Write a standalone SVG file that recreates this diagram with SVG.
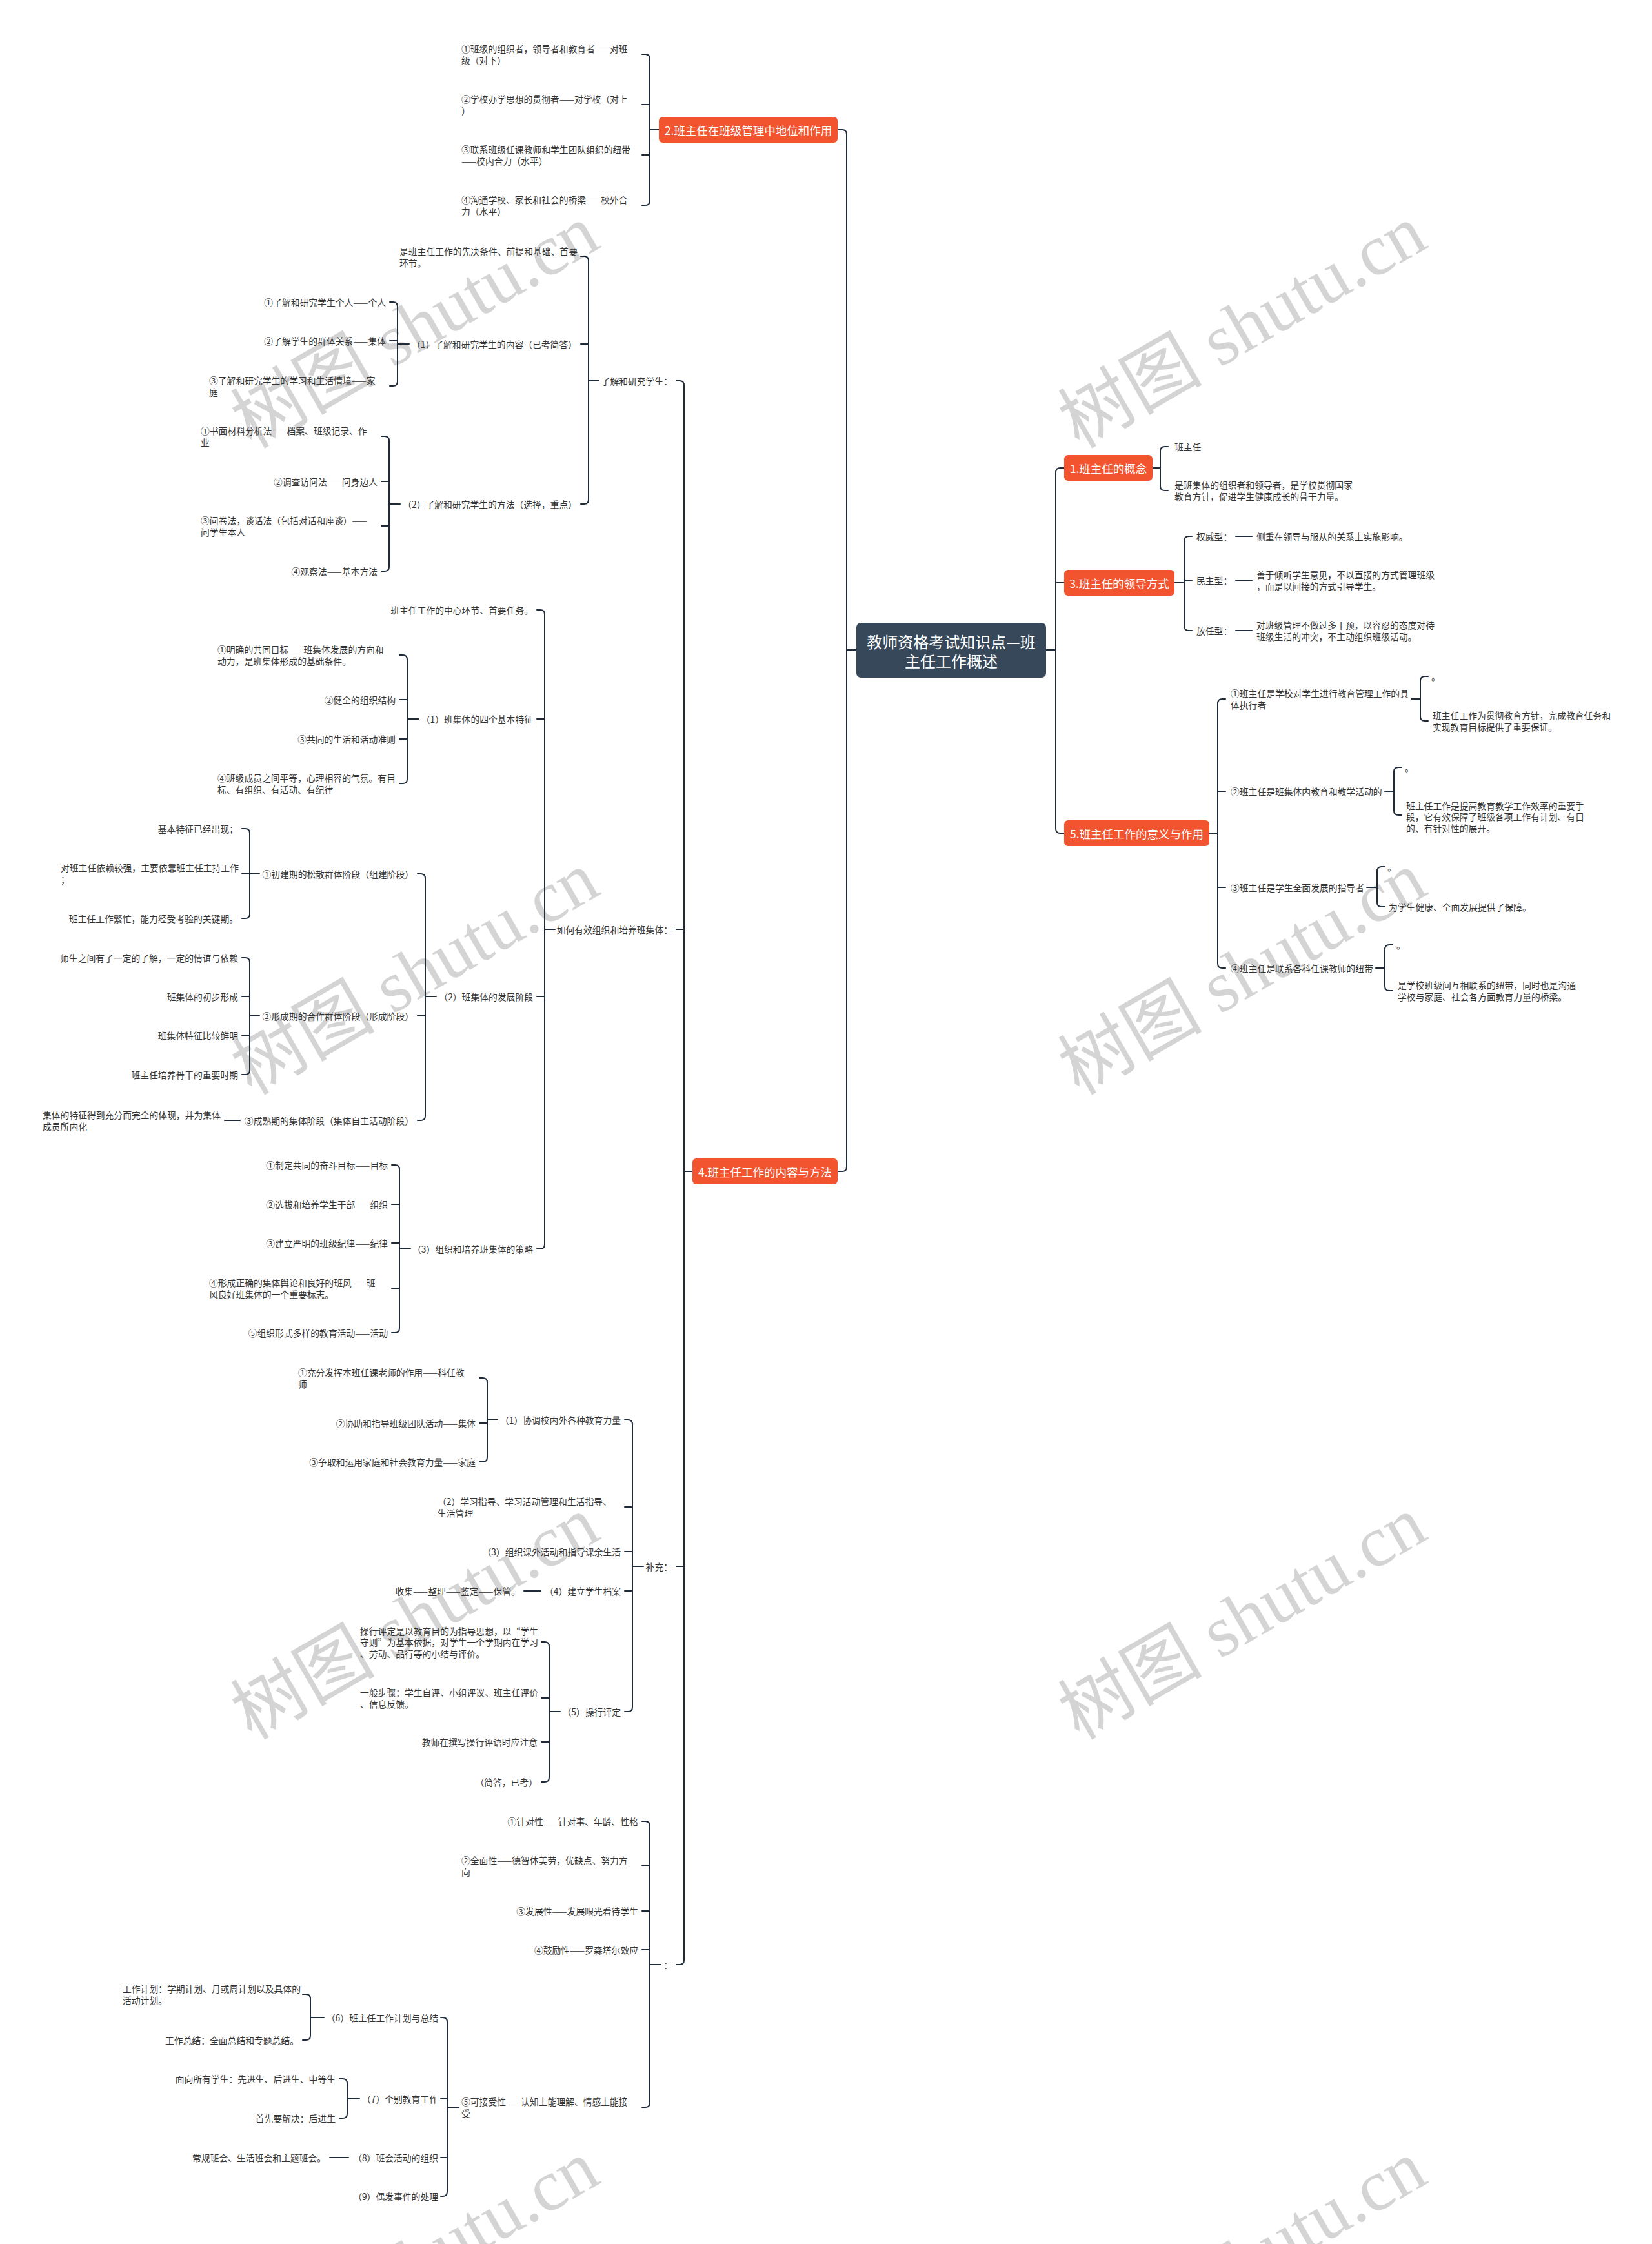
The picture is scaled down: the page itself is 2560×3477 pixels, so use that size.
<svg xmlns="http://www.w3.org/2000/svg" width="2560" height="3477" viewBox="0 0 2560 3477">
<style>
.t{font-family:"Noto Sans CJK SC","Noto Sans",sans-serif;font-size:13.8px;fill:#333;dominant-baseline:central}
.e{text-anchor:end}
.b{font-family:"Noto Sans CJK SC","Noto Sans",sans-serif;font-size:17.5px;fill:#fff;text-anchor:middle;dominant-baseline:central}
.c{font-family:"Noto Sans CJK SC","Noto Sans",sans-serif;font-size:24px;fill:#fff;text-anchor:middle;dominant-baseline:central}
.red{fill:#F25430}
.ln{fill:none;stroke:#1f2b38;stroke-width:2;stroke-linecap:round;stroke-linejoin:round}
.wm{font-family:"Liberation Serif","Noto Sans CJK SC",serif;font-size:112px;fill:#d4d4d4;text-anchor:middle;dominant-baseline:central}
</style>
<rect width="2560" height="3477" fill="#fff"/>
<g id="watermarks">
<text class="wm" x="643" y="506" transform="rotate(-30 643 506)">树图 shutu.cn</text>
<text class="wm" x="1925" y="506" transform="rotate(-30 1925 506)">树图 shutu.cn</text>
<text class="wm" x="643" y="1508" transform="rotate(-30 643 1508)">树图 shutu.cn</text>
<text class="wm" x="1925" y="1508" transform="rotate(-30 1925 1508)">树图 shutu.cn</text>
<text class="wm" x="643" y="2507" transform="rotate(-30 643 2507)">树图 shutu.cn</text>
<text class="wm" x="1925" y="2507" transform="rotate(-30 1925 2507)">树图 shutu.cn</text>
<text class="wm" x="643" y="3505" transform="rotate(-30 643 3505)">树图 shutu.cn</text>
<text class="wm" x="1925" y="3505" transform="rotate(-30 1925 3505)">树图 shutu.cn</text>
</g>
<g id="connectors" class="ln">
<path d="M1298,201 H1305 Q1312,201 1312,208 V1808 Q1312,1815 1305,1815 H1298 M1312,1007 H1327"/>
<path d="M1649,725 H1643 Q1636,725 1636,732 V1284 Q1636,1291 1643,1291 H1649 M1636,903 H1649 M1621,1007 H1636"/>
<path d="M995,84 H1000 Q1007,84 1007,91 V311 Q1007,318 1000,318 H995 M995,162 H1007 M995,240 H1007 M1007,201 H1021"/>
<path d="M1048,590 H1053 Q1060,590 1060,597 V3037 Q1060,3044 1053,3044 H1048 M1048,1440 H1060 M1048,2427 H1060 M1060,1815 H1073"/>
<path d="M900,397 H905 Q912,397 912,404 V774 Q912,781 905,781 H900 M900,533 H912 M912,590 H928"/>
<path d="M604,468 H609 Q616,468 616,475 V591 Q616,598 609,598 H604 M604,528 H616 M616,533 H634"/>
<path d="M591,676 H596 Q603,676 603,683 V878 Q603,885 596,885 H591 M591,746 H603 M591,815 H603 M603,781 H620"/>
<path d="M832,945 H837 Q844,945 844,952 V1928 Q844,1935 837,1935 H832 M832,1114 H844 M832,1544 H844 M844,1440 H860"/>
<path d="M619,1015 H624 Q631,1015 631,1022 V1207 Q631,1214 624,1214 H619 M619,1084 H631 M619,1145 H631 M631,1114 H649"/>
<path d="M647,1354 H652 Q659,1354 659,1361 V1729 Q659,1736 652,1736 H647 M647,1574 H659 M659,1544 H676"/>
<path d="M375,1284 H380 Q387,1284 387,1291 V1416 Q387,1423 380,1423 H375 M375,1353 H387 M387,1354 H402"/>
<path d="M375,1484 H380 Q387,1484 387,1491 V1658 Q387,1665 380,1665 H375 M375,1544 H387 M375,1604 H387 M387,1574 H402"/>
<path d="M348,1736 H372"/>
<path d="M607,1805 H612 Q619,1805 619,1812 V2058 Q619,2065 612,2065 H607 M607,1866 H619 M607,1926 H619 M607,1996 H619 M619,1935 H636"/>
<path d="M968,2200 H973 Q980,2200 980,2207 V2645 Q980,2652 973,2652 H968 M968,2335 H980 M968,2404 H980 M968,2465 H980 M980,2427 H997"/>
<path d="M743,2135 H748 Q755,2135 755,2142 V2258 Q755,2265 748,2265 H743 M743,2205 H755 M755,2200 H771"/>
<path d="M812,2465 H838"/>
<path d="M839,2544 H844 Q851,2544 851,2551 V2754 Q851,2761 844,2761 H839 M839,2631 H851 M839,2699 H851 M851,2652 H868"/>
<path d="M995,2822 H1000 Q1007,2822 1007,2829 V3258 Q1007,3265 1000,3265 H995 M995,2891 H1007 M995,2961 H1007 M995,3021 H1007 M1007,3044 H1024"/>
<path d="M683,3126 H686 Q693,3126 693,3133 V3396 Q693,3403 686,3403 H683 M683,3252 H693 M683,3343 H693 M693,3265 H711"/>
<path d="M469,3090 H474 Q481,3090 481,3097 V3154 Q481,3161 474,3161 H469 M481,3126 H502"/>
<path d="M526,3221 H531 Q538,3221 538,3228 V3275 Q538,3282 531,3282 H526 M538,3252 H557"/>
<path d="M511,3343 H540"/>
<path d="M1810,692 H1805 Q1798,692 1798,699 V753 Q1798,760 1805,760 H1810 M1786,725 H1798"/>
<path d="M1847,831 H1842 Q1835,831 1835,838 V970 Q1835,977 1842,977 H1847 M1835,899 H1847 M1820,903 H1835"/>
<path d="M1915,831 H1940 M1915,899 H1940 M1915,977 H1940"/>
<path d="M1899,1083 H1894 Q1887,1083 1887,1090 V1493 Q1887,1500 1894,1500 H1899 M1899,1226 H1887 M1899,1375 H1887 M1874,1291 H1887"/>
<path d="M2213,1048 H2208 Q2201,1048 2201,1055 V1110 Q2201,1117 2208,1117 H2213 M2187,1083 H2201"/>
<path d="M2172,1189 H2167 Q2160,1189 2160,1196 V1256 Q2160,1263 2167,1263 H2172 M2146,1226 H2160"/>
<path d="M2146,1343 H2141 Q2134,1343 2134,1350 V1398 Q2134,1405 2141,1405 H2146 M2118,1375 H2134"/>
<path d="M2158,1464 H2153 Q2146,1464 2146,1471 V1528 Q2146,1535 2153,1535 H2158 M2132,1500 H2146"/>
</g>
<g id="center"><rect x="1327" y="965" width="294" height="85" rx="7" fill="#36485A"/><text class="c" x="1474" y="993">教师资格考试知识点—班<tspan x="1474" dy="30">主任工作概述</tspan></text></g>
<g id="n1"><rect class="red" x="1649" y="705" width="137" height="40" rx="6"/><text class="b" x="1717.5" y="725">1.班主任的概念</text></g>
<g id="n2"><rect class="red" x="1021" y="181" width="277" height="40" rx="6"/><text class="b" x="1159.5" y="201">2.班主任在班级管理中地位和作用</text></g>
<g id="n3"><rect class="red" x="1649" y="883" width="171" height="40" rx="6"/><text class="b" x="1734.5" y="903">3.班主任的领导方式</text></g>
<g id="n4"><rect class="red" x="1073" y="1795" width="225" height="40" rx="6"/><text class="b" x="1185.5" y="1815">4.班主任工作的内容与方法</text></g>
<g id="n5"><rect class="red" x="1649" y="1271" width="225" height="40" rx="6"/><text class="b" x="1761.5" y="1291">5.班主任工作的意义与作用</text></g>
<g id="n2-children">
<g id="n2c1"><text class="t" x="715" y="75.25">①班级的组织者，领导者和教育者——对班<tspan x="715" dy="17.5">级（对下）</tspan></text></g>
<g id="n2c2"><text class="t" x="715" y="153.25">②学校办学思想的贯彻者——对学校（对上<tspan x="715" dy="17.5">）</tspan></text></g>
<g id="n2c3"><text class="t" x="715" y="231.25">③联系班级任课教师和学生团队组织的纽带<tspan x="715" dy="17.5">——校内合力（水平）</tspan></text></g>
<g id="n2c4"><text class="t" x="715" y="309.25">④沟通学校、家长和社会的桥梁——校外合<tspan x="715" dy="17.5">力（水平）</tspan></text></g>
</g>
<g id="n4-children">
<g id="k1"><text class="t e" x="1042" y="590">了解和研究学生：</text></g>
<g id="k1a"><text class="t" x="619" y="389.25">是班主任工作的先决条件、前提和基础、首要<tspan x="619" dy="17.5">环节。</tspan></text></g>
<g id="k1b"><text class="t e" x="894" y="533">（1）了解和研究学生的内容（已考简答）</text></g>
<g id="k1b1"><text class="t e" x="598" y="468">①了解和研究学生个人——个人</text></g>
<g id="k1b2"><text class="t e" x="598" y="528">②了解学生的群体关系——集体</text></g>
<g id="k1b3"><text class="t" x="324" y="589.25">③了解和研究学生的学习和生活情境——家<tspan x="324" dy="17.5">庭</tspan></text></g>
<g id="k1c"><text class="t e" x="894" y="781">（2）了解和研究学生的方法（选择，重点）</text></g>
<g id="k1c1"><text class="t" x="311" y="667.25">①书面材料分析法——档案、班级记录、作<tspan x="311" dy="17.5">业</tspan></text></g>
<g id="k1c2"><text class="t e" x="585" y="746">②调查访问法——问身边人</text></g>
<g id="k1c3"><text class="t" x="311" y="806.25">③问卷法，谈话法（包括对话和座谈）——<tspan x="311" dy="17.5">问学生本人</tspan></text></g>
<g id="k1c4"><text class="t e" x="585" y="885">④观察法——基本方法</text></g>

<g id="k2"><text class="t e" x="1042" y="1440">如何有效组织和培养班集体：</text></g>
<g id="k2a"><text class="t e" x="826" y="945">班主任工作的中心环节、首要任务。</text></g>
<g id="k2b"><text class="t e" x="826" y="1114">（1）班集体的四个基本特征</text></g>
<g id="k2b1"><text class="t" x="337" y="1006.25">①明确的共同目标——班集体发展的方向和<tspan x="337" dy="17.5">动力，是班集体形成的基础条件。</tspan></text></g>
<g id="k2b2"><text class="t e" x="613" y="1084">②健全的组织结构</text></g>
<g id="k2b3"><text class="t e" x="613" y="1145">③共同的生活和活动准则</text></g>
<g id="k2b4"><text class="t" x="337" y="1205.25">④班级成员之间平等，心理相容的气氛。有目<tspan x="337" dy="17.5">标、有组织、有活动、有纪律</tspan></text></g>
<g id="k2c"><text class="t e" x="826" y="1544">（2）班集体的发展阶段</text></g>
<g id="k2c1"><text class="t e" x="641" y="1354">①初建期的松散群体阶段（组建阶段）</text></g>
<g id="k2c1a"><text class="t e" x="369" y="1284">基本特征已经出现；</text></g>
<g id="k2c1b"><text class="t" x="94" y="1344.25">对班主任依赖较强，主要依靠班主任主持工作<tspan x="94" dy="17.5">；</tspan></text></g>
<g id="k2c1c"><text class="t e" x="369" y="1423">班主任工作繁忙，能力经受考验的关键期。</text></g>
<g id="k2c2"><text class="t e" x="641" y="1574">②形成期的合作群体阶段（形成阶段）</text></g>
<g id="k2c2a"><text class="t e" x="369" y="1484">师生之间有了一定的了解，一定的情谊与依赖</text></g>
<g id="k2c2b"><text class="t e" x="369" y="1544">班集体的初步形成</text></g>
<g id="k2c2c"><text class="t e" x="369" y="1604">班集体特征比较鲜明</text></g>
<g id="k2c2d"><text class="t e" x="369" y="1665">班主任培养骨干的重要时期</text></g>
<g id="k2c3"><text class="t e" x="641" y="1736">③成熟期的集体阶段（集体自主活动阶段）</text></g>
<g id="k2c3a"><text class="t" x="66" y="1727.25">集体的特征得到充分而完全的体现，并为集体<tspan x="66" dy="17.5">成员所内化</tspan></text></g>
<g id="k2d"><text class="t e" x="826" y="1935">（3）组织和培养班集体的策略</text></g>
<g id="k2d1"><text class="t e" x="601" y="1805">①制定共同的奋斗目标——目标</text></g>
<g id="k2d2"><text class="t e" x="601" y="1866">②选拔和培养学生干部——组织</text></g>
<g id="k2d3"><text class="t e" x="601" y="1926">③建立严明的班级纪律——纪律</text></g>
<g id="k2d4"><text class="t" x="324" y="1987.25">④形成正确的集体舆论和良好的班风——班<tspan x="324" dy="17.5">风良好班集体的一个重要标志。</tspan></text></g>
<g id="k2d5"><text class="t e" x="601" y="2065">⑤组织形式多样的教育活动——活动</text></g>

<g id="k3"><text class="t e" x="1042" y="2427">补充：</text></g>
<g id="k3a"><text class="t e" x="962" y="2200">（1）协调校内外各种教育力量</text></g>
<g id="k3a1"><text class="t" x="462" y="2126.25">①充分发挥本班任课老师的作用——科任教<tspan x="462" dy="17.5">师</tspan></text></g>
<g id="k3a2"><text class="t e" x="737" y="2205">②协助和指导班级团队活动——集体</text></g>
<g id="k3a3"><text class="t e" x="737" y="2265">③争取和运用家庭和社会教育力量——家庭</text></g>
<g id="k3b"><text class="t" x="678" y="2326.25">（2）学习指导、学习活动管理和生活指导、<tspan x="678" dy="17.5">生活管理</tspan></text></g>
<g id="k3c"><text class="t e" x="962" y="2404">（3）组织课外活动和指导课余生活</text></g>
<g id="k3d"><text class="t e" x="962" y="2465">（4）建立学生档案</text></g>
<g id="k3d1"><text class="t e" x="806" y="2465">收集——整理——鉴定——保管。</text></g>
<g id="k3e"><text class="t e" x="962" y="2652">（5）操行评定</text></g>
<g id="k3e1"><text class="t" x="558" y="2526.5">操行评定是以教育目的为指导思想，以“学生<tspan x="558" dy="17.5">守则”为基本依据，对学生一个学期内在学习</tspan><tspan x="558" dy="17.5">、劳动、品行等的小结与评价。</tspan></text></g>
<g id="k3e2"><text class="t" x="558" y="2622.25">一般步骤：学生自评、小组评议、班主任评价<tspan x="558" dy="17.5">、信息反馈。</tspan></text></g>
<g id="k3e3"><text class="t e" x="833" y="2699">教师在撰写操行评语时应注意</text></g>
<g id="k3e4"><text class="t e" x="833" y="2761">（简答，已考）</text></g>

<g id="k4"><text class="t e" x="1042" y="3044">：</text></g>
<g id="k4a"><text class="t e" x="989" y="2822">①针对性——针对事、年龄、性格</text></g>
<g id="k4b"><text class="t" x="715" y="2882.25">②全面性——德智体美劳，优缺点、努力方<tspan x="715" dy="17.5">向</tspan></text></g>
<g id="k4c"><text class="t e" x="989" y="2961">③发展性——发展眼光看待学生</text></g>
<g id="k4d"><text class="t e" x="989" y="3021">④鼓励性——罗森塔尔效应</text></g>
<g id="k4e"><text class="t" x="715" y="3256.25">⑤可接受性——认知上能理解、情感上能接<tspan x="715" dy="17.5">受</tspan></text></g>
<g id="k4e6"><text class="t e" x="679" y="3126">（6）班主任工作计划与总结</text></g>
<g id="k4e6a"><text class="t" x="190" y="3081.25">工作计划：学期计划、月或周计划以及具体的<tspan x="190" dy="17.5">活动计划。</tspan></text></g>
<g id="k4e6b"><text class="t e" x="463" y="3161">工作总结：全面总结和专题总结。</text></g>
<g id="k4e7"><text class="t e" x="679" y="3252">（7）个别教育工作</text></g>
<g id="k4e7a"><text class="t e" x="520" y="3221">面向所有学生：先进生、后进生、中等生</text></g>
<g id="k4e7b"><text class="t e" x="520" y="3282">首先要解决：后进生</text></g>
<g id="k4e8"><text class="t e" x="679" y="3343">（8）班会活动的组织</text></g>
<g id="k4e8a"><text class="t e" x="505" y="3343">常规班会、生活班会和主题班会。</text></g>
<g id="k4e9"><text class="t e" x="679" y="3403">（9）偶发事件的处理</text></g>
</g>
<g id="n1-children">
<g id="n1c1"><text class="t" x="1820" y="692">班主任</text></g>
<g id="n1c2"><text class="t" x="1820" y="751.25">是班集体的组织者和领导者，是学校贯彻国家<tspan x="1820" dy="17.5">教育方针，促进学生健康成长的骨干力量。</tspan></text></g>
</g>
<g id="n3-children">
<g id="n3c1"><text class="t" x="1854" y="831">权威型：</text><text class="t" x="1947" y="831">侧重在领导与服从的关系上实施影响。</text></g>
<g id="n3c2"><text class="t" x="1854" y="899">民主型：</text><text class="t" x="1947" y="890.25">善于倾听学生意见，不以直接的方式管理班级<tspan x="1947" dy="17.5">，而是以间接的方式引导学生。</tspan></text></g>
<g id="n3c3"><text class="t" x="1854" y="977">放任型：</text><text class="t" x="1947" y="968.25">对班级管理不做过多干预，以容忍的态度对待<tspan x="1947" dy="17.5">班级生活的冲突，不主动组织班级活动。</tspan></text></g>
</g>
<g id="n5-children">
<g id="n5c1"><text class="t" x="1907" y="1074.25">①班主任是学校对学生进行教育管理工作的具<tspan x="1907" dy="17.5">体执行者</tspan></text></g>
<g id="n5c1a"><text class="t" x="2218" y="1048">。</text></g>
<g id="n5c1b"><text class="t" x="2220" y="1108.25">班主任工作为贯彻教育方针，完成教育任务和<tspan x="2220" dy="17.5">实现教育目标提供了重要保证。</tspan></text></g>
<g id="n5c2"><text class="t" x="1907" y="1226">②班主任是班集体内教育和教学活动的</text></g>
<g id="n5c2a"><text class="t" x="2177" y="1189">。</text></g>
<g id="n5c2b"><text class="t" x="2179" y="1247.5">班主任工作是提高教育教学工作效率的重要手<tspan x="2179" dy="17.5">段，它有效保障了班级各项工作有计划、有目</tspan><tspan x="2179" dy="17.5">的、有针对性的展开。</tspan></text></g>
<g id="n5c3"><text class="t" x="1907" y="1375">③班主任是学生全面发展的指导者</text></g>
<g id="n5c3a"><text class="t" x="2150" y="1343">。</text></g>
<g id="n5c3b"><text class="t" x="2152" y="1405">为学生健康、全面发展提供了保障。</text></g>
<g id="n5c4"><text class="t" x="1907" y="1500">④班主任是联系各科任课教师的纽带</text></g>
<g id="n5c4a"><text class="t" x="2164" y="1464">。</text></g>
<g id="n5c4b"><text class="t" x="2166" y="1526.25">是学校班级间互相联系的纽带，同时也是沟通<tspan x="2166" dy="17.5">学校与家庭、社会各方面教育力量的桥梁。</tspan></text></g>
</g>
</svg>
